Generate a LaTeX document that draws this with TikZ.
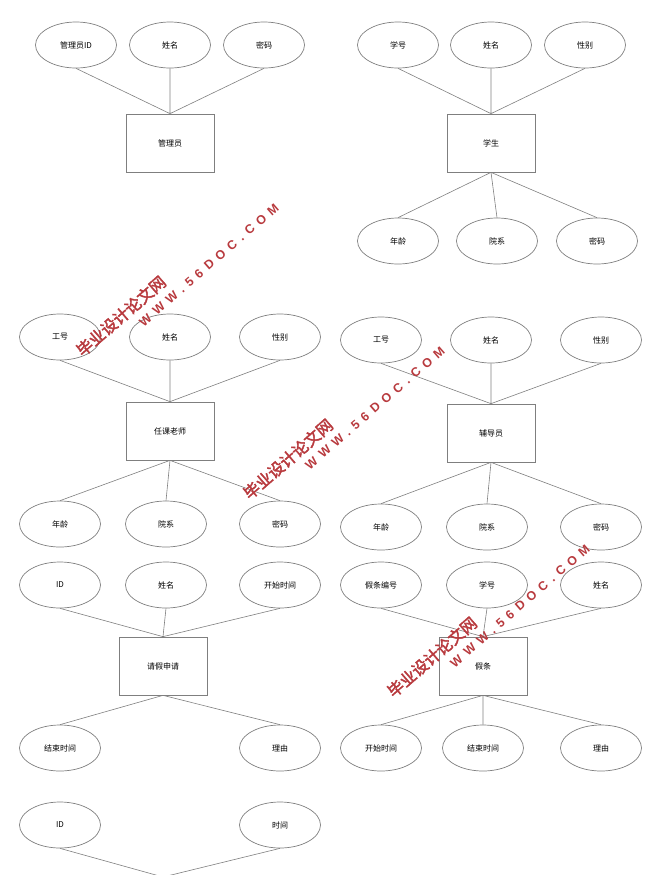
\documentclass[tikz,border=0pt]{standalone}
\usepackage{fontspec}
\usepackage{tikz}
\usetikzlibrary{shapes.geometric,positioning}
\newfontfamily\cjk{Noto Sans CJK SC}
\newfontfamily\cjkwm[FakeBold=2.5]{Noto Sans CJK SC}
\newfontfamily\wmurl[LetterSpace=45]{Liberation Sans Bold}
\definecolor{linegray}{HTML}{7F7F7F}
\definecolor{wmred}{HTML}{B83A3E}
\tikzset{
  attr/.style={ellipse,draw=linegray,line width=0.7pt,minimum width=81pt,minimum height=46pt,inner sep=0pt,font=\cjk\fontsize{8}{9}\selectfont},
  entity/.style={rectangle,draw=linegray,line width=0.7pt,minimum width=88pt,minimum height=58pt,inner sep=0pt,font=\cjk\fontsize{8}{9}\selectfont},
  conn/.style={draw=linegray,line width=0.6pt},
  wmcn/.style={text=wmred,font=\cjkwm\fontsize{16}{18}\selectfont,rotate=41,inner sep=0pt},
  wmen/.style={text=wmred,font=\wmurl\fontsize{12.5}{14}\selectfont,rotate=41,inner sep=0pt}
}
\begin{document}
\begin{tikzpicture}[x=1pt,y=-1pt]
  \useasboundingbox (0,0) rectangle (656,884);
  \clip (0,0) rectangle (656,874);
  % administrator
  \node[entity] (admin) at (170,143) {管理员};
  \node[attr] (adminId) at (76,45) {管理员ID};
  \node[attr] (adminName) at (170,45) {姓名};
  \node[attr] (adminPwd) at (264,45) {密码};
  \path[conn] (adminId.south) -- (admin.north)
    (adminName.south) -- (admin.north)
    (adminPwd.south) -- (admin.north);
  % student
  \node[entity] (stu) at (491,143) {学生};
  \node[attr] (stuNo) at (398,45) {学号};
  \node[attr] (stuName) at (491,45) {姓名};
  \node[attr] (stuSex) at (585,45) {性别};
  \node[attr] (stuAge) at (398,241) {年龄};
  \node[attr] (stuDept) at (497,241) {院系};
  \node[attr] (stuPwd) at (597,241) {密码};
  \path[conn] (stuNo.south) -- (stu.north)
    (stuName.south) -- (stu.north)
    (stuSex.south) -- (stu.north)
    (stu.south) -- (stuAge.north)
    (stu.south) -- (stuDept.north)
    (stu.south) -- (stuPwd.north);
  % teacher
  \node[entity] (tch) at (170,431) {任课老师};
  \node[attr] (tchNo) at (60,337) {工号};
  \node[attr] (tchName) at (170,337) {姓名};
  \node[attr] (tchSex) at (280,337) {性别};
  \node[attr] (tchAge) at (60,524) {年龄};
  \node[attr] (tchDept) at (166,524) {院系};
  \node[attr] (tchPwd) at (280,524) {密码};
  \path[conn] (tchNo.south) -- (tch.north)
    (tchName.south) -- (tch.north)
    (tchSex.south) -- (tch.north)
    (tch.south) -- (tchAge.north)
    (tch.south) -- (tchDept.north)
    (tch.south) -- (tchPwd.north);
  % counsellor
  \node[entity] (csl) at (491,433) {辅导员};
  \node[attr] (cslNo) at (381,340) {工号};
  \node[attr] (cslName) at (491,340) {姓名};
  \node[attr] (cslSex) at (601,340) {性别};
  \node[attr] (cslAge) at (381,527) {年龄};
  \node[attr] (cslDept) at (487,527) {院系};
  \node[attr] (cslPwd) at (601,527) {密码};
  \path[conn] (cslNo.south) -- (csl.north)
    (cslName.south) -- (csl.north)
    (cslSex.south) -- (csl.north)
    (csl.south) -- (cslAge.north)
    (csl.south) -- (cslDept.north)
    (csl.south) -- (cslPwd.north);
  % leave application
  \node[entity] (app) at (163,666) {请假申请};
  \node[attr] (appId) at (60,585) {ID};
  \node[attr] (appName) at (166,585) {姓名};
  \node[attr] (appStart) at (280,585) {开始时间};
  \node[attr] (appEnd) at (60,748) {结束时间};
  \node[attr] (appReason) at (280,748) {理由};
  \path[conn] (appId.south) -- (app.north)
    (appName.south) -- (app.north)
    (appStart.south) -- (app.north)
    (app.south) -- (appEnd.north)
    (app.south) -- (appReason.north);
  % leave note
  \node[entity] (note) at (483,666) {假条};
  \node[attr] (noteNo) at (381,585) {假条编号};
  \node[attr] (noteStu) at (487,585) {学号};
  \node[attr] (noteName) at (601,585) {姓名};
  \node[attr] (noteStart) at (381,748) {开始时间};
  \node[attr] (noteEnd) at (483,748) {结束时间};
  \node[attr] (noteReason) at (601,748) {理由};
  \path[conn] (noteNo.south) -- (note.north)
    (noteStu.south) -- (note.north)
    (noteName.south) -- (note.north)
    (note.south) -- (noteStart.north)
    (note.south) -- (noteEnd.north)
    (note.south) -- (noteReason.north);
  % record (cut off)
  \coordinate (recTop) at (163,877);
  \node[attr] (recId) at (60,825) {ID};
  \node[attr] (recTime) at (280,825) {时间};
  \path[conn] (recId.south) -- (recTop)
    (recTime.south) -- (recTop);
  % watermarks
  \node[wmcn] (wm1cn) at (121,316) {毕业设计论文网};
  \node[wmen] (wm1en) at (209,265) {WWW.56DOC.COM};
  \node[wmcn] (wm2cn) at (288,459) {毕业设计论文网};
  \node[wmen] (wm2en) at (375,408) {WWW.56DOC.COM};
  \node[wmcn] (wm3cn) at (432,657) {毕业设计论文网};
  \node[wmen] (wm3en) at (520,606) {WWW.56DOC.COM};
\end{tikzpicture}
\end{document}
